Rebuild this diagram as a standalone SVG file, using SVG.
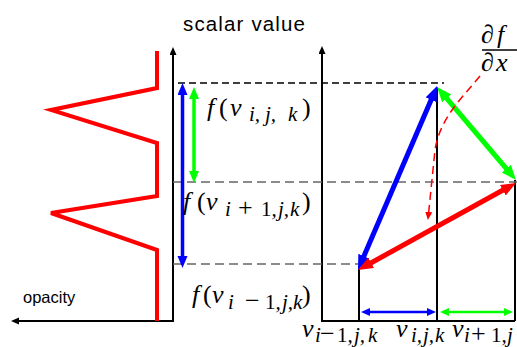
<svg xmlns="http://www.w3.org/2000/svg" width="517" height="347" viewBox="0 0 517 347">
<style>
.ax{fill:none;stroke:#000;stroke-width:2}
.vl{fill:none;stroke:#000;stroke-width:2}
.dk{fill:none;stroke:#000;stroke-width:1.3;stroke-dasharray:7 4}
.dg{fill:none;stroke:#666;stroke-width:1.5;stroke-dasharray:9 5}
.m{font-family:"Liberation Serif","DejaVu Serif",serif;font-size:26px;fill:#000}
.it{font-style:italic}
.sub{font-family:"Liberation Serif","DejaVu Serif",serif;font-size:21px;font-style:italic;fill:#000}
.up{font-style:normal}
.op{font-style:normal;font-size:26px}
.sans{font-family:"Liberation Sans",Arial,sans-serif;fill:#000}
</style>
<defs>
<marker id="mk" markerUnits="userSpaceOnUse" markerWidth="10" markerHeight="8" refX="3" refY="3.5" orient="auto-start-reverse"><path d="M0,0 L8,3.5 L0,7 z" fill="#000"/></marker>
<marker id="bB" markerUnits="userSpaceOnUse" markerWidth="16" markerHeight="13" refX="5" refY="6" orient="auto-start-reverse"><path d="M0,0 L15,6 L0,12 z" fill="#00f"/></marker>
<marker id="bG" markerUnits="userSpaceOnUse" markerWidth="16" markerHeight="13" refX="5" refY="6" orient="auto-start-reverse"><path d="M0,0 L15,6 L0,12 z" fill="#0f0"/></marker>
<marker id="bR" markerUnits="userSpaceOnUse" markerWidth="16" markerHeight="13" refX="5" refY="6" orient="auto-start-reverse"><path d="M0,0 L15,6 L0,12 z" fill="#f00"/></marker>
<marker id="sB" markerUnits="userSpaceOnUse" markerWidth="13" markerHeight="11" refX="4" refY="5" orient="auto-start-reverse"><path d="M0,0 L12,5 L0,10 z" fill="#00f"/></marker>
<marker id="sG" markerUnits="userSpaceOnUse" markerWidth="13" markerHeight="11" refX="4" refY="5" orient="auto-start-reverse"><path d="M0,0 L12,5 L0,10 z" fill="#0f0"/></marker>
<marker id="tB" markerUnits="userSpaceOnUse" markerWidth="10" markerHeight="9" refX="3" refY="4" orient="auto-start-reverse"><path d="M0,0 L9,4 L0,8 z" fill="#00f"/></marker>
<marker id="tG" markerUnits="userSpaceOnUse" markerWidth="10" markerHeight="9" refX="3" refY="4" orient="auto-start-reverse"><path d="M0,0 L9,4 L0,8 z" fill="#0f0"/></marker>
<marker id="tR" markerUnits="userSpaceOnUse" markerWidth="9" markerHeight="8" refX="2" refY="3.5" orient="auto"><path d="M0,0 L8,3.5 L0,7 z" fill="#f00"/></marker>
</defs>

<g id="left-plot">
<path class="ax" d="M173,52 L173,321 L16,321" marker-start="url(#mk)" marker-end="url(#mk)"/>
<path id="opacity-curve" d="M157,51 L157,88 L51,110 L157,143 L157,196 L51,213 L157,250 L157,321" fill="none" stroke="#f00" stroke-width="4"/>
<text class="sans" x="183" y="31" font-size="20.5" textLength="122">scalar value</text>
<text class="sans" x="23" y="303" font-size="16.5">opacity</text>
</g>

<g id="right-plot">
<path class="ax" d="M322,51 L322,321 L515,321" marker-start="url(#mk)"/>
<path class="vl" d="M359,266 L359,321 M437,87 L437,321 M515,180 L515,321"/>
</g>

<g id="guides">
<path class="dk" d="M178,83 L444,83"/>
<path class="dg" d="M173,182 L517,182"/>
<path class="dg" d="M173,264 L358,264"/>
</g>

<g id="connectors">
<path d="M182.5,91 L182.5,260" stroke="#00f" stroke-width="3.5" marker-start="url(#sB)" marker-end="url(#sB)"/>
<path d="M194,95 L194,175" stroke="#0f0" stroke-width="3.5" marker-start="url(#sG)" marker-end="url(#sG)"/>
<path d="M361.9,260.8 L433.1,95.2" stroke="#00f" stroke-width="5" marker-start="url(#bB)" marker-end="url(#bB)"/>
<path d="M443.5,94.6 L509.5,172.4" stroke="#0f0" stroke-width="5" marker-start="url(#bG)" marker-end="url(#bG)"/>
<path d="M507.2,187.8 L366.8,265.2" stroke="#f00" stroke-width="5" marker-start="url(#bR)" marker-end="url(#bR)"/>
<path d="M367,312 L430,312" stroke="#00f" stroke-width="2.5" marker-start="url(#tB)" marker-end="url(#tB)"/>
<path d="M446,312 L507,312" stroke="#0f0" stroke-width="2.5" marker-start="url(#tG)" marker-end="url(#tG)"/>
<path d="M480,76 C462,98 440,118 435,150 L428.5,214" fill="none" stroke="#f00" stroke-width="1.5" stroke-dasharray="8 5" marker-end="url(#tR)"/>
</g>

<g id="label-f-i">
<text class="m"><tspan class="it" x="207" y="116">f</tspan><tspan x="219" y="116">(</tspan><tspan class="it" x="230" y="116">v</tspan><tspan x="302" y="116">)</tspan></text>
<text class="sub" y="121"><tspan x="249">i,</tspan><tspan x="265">j,</tspan><tspan x="288">k</tspan></text>
</g>
<g id="label-f-ip1">
<text class="m"><tspan class="it" x="183" y="210">f</tspan><tspan x="197" y="210">(</tspan><tspan class="it" x="206" y="210">v</tspan><tspan x="302" y="210">)</tspan></text>
<text class="sub" y="216"><tspan x="225">i</tspan><tspan class="op" x="238">+</tspan><tspan class="up" x="261">1</tspan><tspan>,</tspan><tspan x="278">j,</tspan><tspan x="290">k</tspan></text>
</g>
<g id="label-f-im1">
<text class="m"><tspan class="it" x="192" y="303">f</tspan><tspan x="203" y="303">(</tspan><tspan class="it" x="212" y="303">v</tspan><tspan x="302" y="303">)</tspan></text>
<text class="sub" y="309"><tspan x="228">i</tspan><tspan class="op" x="245">−</tspan><tspan class="up" x="265">1</tspan><tspan>,</tspan><tspan x="282">j,</tspan><tspan x="293">k</tspan></text>
</g>
<g id="label-v-im1">
<text class="m"><tspan class="it" x="302" y="337">v</tspan></text>
<text class="sub" y="342"><tspan x="315">i</tspan><tspan class="op" x="320">−</tspan><tspan class="up" x="337">1</tspan><tspan>,</tspan><tspan x="354">j,</tspan><tspan x="368">k</tspan></text>
</g>
<g id="label-v-i">
<text class="m"><tspan class="it" x="396" y="337">v</tspan></text>
<text class="sub" y="342"><tspan x="411">i,</tspan><tspan x="423">j,</tspan><tspan x="435">k</tspan></text>
</g>
<g id="label-v-ip1">
<text class="m"><tspan class="it" x="452" y="337">v</tspan></text>
<text class="sub" y="342"><tspan x="464">i</tspan><tspan class="op" x="471">+</tspan><tspan class="up" x="491">1</tspan><tspan>,</tspan><tspan x="507">j</tspan></text>
</g>
<g id="label-dfdx">
<text class="m" font-size="26"><tspan x="481" y="43">∂</tspan><tspan class="it" x="497">f</tspan></text>
<path d="M482,50 L517,50" stroke="#000" stroke-width="1.5"/>
<text class="m" font-size="26"><tspan x="481" y="71">∂</tspan><tspan class="it" x="496">x</tspan></text>
</g>
</svg>
